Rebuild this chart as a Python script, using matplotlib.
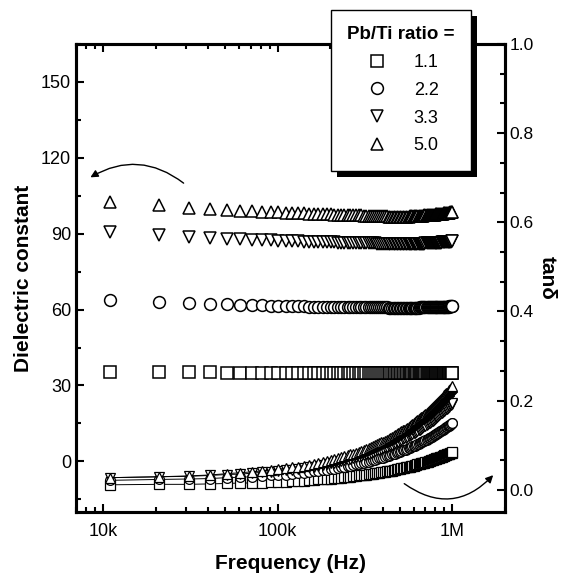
import matplotlib
matplotlib.use("Agg")
import matplotlib.pyplot as plt
from matplotlib.ticker import LogLocator, AutoMinorLocator, MultipleLocator, NullFormatter
from matplotlib.patches import Rectangle

plt.rcParams['font.family'] = ['Liberation Sans', 'DejaVu Sans']

# measuring frequencies (kHz)
freq_khz = [11, 21, 31, 41, 51, 61, 71, 81, 91, 101, 111, 121, 131, 141, 151, 161, 171, 181, 191, 201,
            211, 221, 231, 241, 251, 261, 271, 281, 291, 301, 311, 321, 331, 341, 351, 361, 371, 381, 391, 401,
            411, 421, 431, 441, 451, 461, 471, 481, 491, 501, 511, 521, 531, 541, 551, 561, 571, 581, 591, 601,
            611, 621, 631, 641, 651, 661, 671, 681, 691, 701, 711, 721, 731, 741, 751, 761, 771, 781, 791, 801,
            811, 821, 831, 841, 851, 861, 871, 881, 891, 901, 911, 921, 931, 941, 951, 961, 971, 981, 991, 1001]

ratios = ['1.1', '2.2', '3.3', '5.0']

# dielectric constant
eps_11 = [35.4, 35.3, 35.2, 35.2, 35.1, 35.1, 35.1, 35.0, 35.0, 35.0,
          35.0, 35.0, 35.0, 35.0, 35.0, 35.0, 35.0, 35.0, 35.0, 35.0,
          35.0, 35.0, 35.0, 34.9, 34.9, 34.9, 34.9, 34.9, 34.9, 34.9,
          34.9, 34.9, 34.9, 34.9, 34.9, 34.9, 34.9, 34.9, 34.9, 34.9,
          34.9, 34.9, 34.9, 34.9, 34.9, 34.9, 34.9, 34.9, 34.9, 34.9,
          34.9, 34.9, 34.9, 34.9, 34.9, 34.9, 34.9, 34.9, 34.9, 34.9,
          34.9, 34.9, 34.9, 34.9, 34.9, 34.9, 34.9, 34.9, 34.9, 34.9,
          34.9, 34.9, 34.9, 34.9, 34.9, 34.9, 35.0, 35.0, 35.0, 35.0,
          35.0, 35.0, 35.0, 35.0, 35.0, 35.0, 35.0, 35.0, 35.0, 35.0,
          35.0, 35.0, 35.0, 35.0, 35.0, 35.0, 35.0, 35.0, 35.0, 35.0]
eps_22 = [63.6, 63.2, 62.7, 62.4, 62.2, 62.0, 61.8, 61.7, 61.6, 61.5,
          61.4, 61.4, 61.3, 61.3, 61.2, 61.2, 61.2, 61.1, 61.1, 61.1,
          61.1, 61.0, 61.0, 61.0, 61.0, 61.0, 60.9, 60.9, 60.9, 60.9,
          60.9, 60.9, 60.9, 60.9, 60.9, 60.9, 60.9, 60.9, 60.9, 60.9,
          60.9, 60.9, 60.8, 60.8, 60.8, 60.8, 60.8, 60.8, 60.8, 60.8,
          60.8, 60.8, 60.8, 60.8, 60.8, 60.8, 60.8, 60.8, 60.8, 60.8,
          60.8, 60.8, 60.8, 60.8, 60.9, 60.9, 60.9, 60.9, 60.9, 60.9,
          60.9, 60.9, 60.9, 61.0, 61.0, 61.0, 61.0, 61.0, 61.0, 61.0,
          61.0, 61.1, 61.1, 61.1, 61.1, 61.1, 61.1, 61.1, 61.2, 61.2,
          61.2, 61.2, 61.2, 61.2, 61.2, 61.3, 61.3, 61.3, 61.3, 61.3]
eps_33 = [90.8, 89.6, 88.8, 88.4, 88.1, 87.9, 87.7, 87.5, 87.4, 87.3,
          87.2, 87.1, 87.0, 86.9, 86.9, 86.8, 86.8, 86.7, 86.7, 86.6,
          86.6, 86.5, 86.5, 86.5, 86.4, 86.4, 86.4, 86.3, 86.3, 86.3,
          86.3, 86.2, 86.2, 86.2, 86.2, 86.2, 86.1, 86.1, 86.1, 86.1,
          86.1, 86.1, 86.1, 86.0, 86.0, 86.0, 86.0, 86.0, 86.0, 86.0,
          86.0, 86.0, 86.0, 86.0, 86.0, 86.0, 86.0, 86.0, 86.0, 86.0,
          86.0, 86.0, 86.0, 86.1, 86.1, 86.1, 86.1, 86.1, 86.1, 86.2,
          86.2, 86.2, 86.2, 86.2, 86.3, 86.3, 86.3, 86.3, 86.4, 86.4,
          86.4, 86.4, 86.5, 86.5, 86.5, 86.5, 86.6, 86.6, 86.6, 86.7,
          86.7, 86.7, 86.8, 86.8, 86.8, 86.9, 86.9, 86.9, 87.0, 87.0]
eps_50 = [102.5, 101.2, 100.1, 99.7, 99.4, 99.1, 98.9, 98.7, 98.5, 98.4,
          98.3, 98.2, 98.1, 98.0, 97.9, 97.8, 97.8, 97.7, 97.6, 97.6,
          97.5, 97.5, 97.4, 97.4, 97.3, 97.3, 97.3, 97.2, 97.2, 97.2,
          97.1, 97.1, 97.1, 97.0, 97.0, 97.0, 97.0, 96.9, 96.9, 96.9,
          96.9, 96.9, 96.8, 96.8, 96.8, 96.8, 96.8, 96.8, 96.8, 96.8,
          96.8, 96.8, 96.8, 96.8, 96.8, 96.8, 96.9, 96.9, 96.9, 96.9,
          96.9, 97.0, 97.0, 97.0, 97.0, 97.1, 97.1, 97.1, 97.2, 97.2,
          97.2, 97.3, 97.3, 97.3, 97.4, 97.4, 97.5, 97.5, 97.5, 97.6,
          97.6, 97.7, 97.7, 97.8, 97.8, 97.8, 97.9, 97.9, 98.0, 98.0,
          98.1, 98.1, 98.2, 98.2, 98.3, 98.3, 98.4, 98.4, 98.5, 98.6]

# loss tangent
tan_11 = [0.011, 0.012, 0.012, 0.013, 0.014, 0.015, 0.015, 0.016, 0.017, 0.017,
          0.018, 0.019, 0.020, 0.020, 0.021, 0.022, 0.023, 0.023, 0.024, 0.025,
          0.026, 0.026, 0.027, 0.028, 0.029, 0.029, 0.030, 0.031, 0.032, 0.032,
          0.033, 0.034, 0.035, 0.035, 0.036, 0.037, 0.037, 0.038, 0.039, 0.040,
          0.040, 0.041, 0.042, 0.043, 0.043, 0.044, 0.045, 0.046, 0.046, 0.047,
          0.048, 0.049, 0.049, 0.050, 0.051, 0.052, 0.052, 0.053, 0.054, 0.054,
          0.055, 0.056, 0.057, 0.057, 0.058, 0.059, 0.060, 0.060, 0.061, 0.062,
          0.063, 0.063, 0.064, 0.065, 0.066, 0.066, 0.067, 0.068, 0.069, 0.069,
          0.070, 0.071, 0.072, 0.072, 0.073, 0.074, 0.074, 0.075, 0.076, 0.077,
          0.077, 0.078, 0.079, 0.080, 0.080, 0.081, 0.082, 0.083, 0.083, 0.084]
tan_22 = [0.021, 0.023, 0.024, 0.025, 0.027, 0.028, 0.029, 0.031, 0.032, 0.033,
          0.034, 0.036, 0.037, 0.038, 0.040, 0.041, 0.042, 0.044, 0.045, 0.046,
          0.047, 0.049, 0.050, 0.051, 0.053, 0.054, 0.055, 0.057, 0.058, 0.059,
          0.060, 0.062, 0.063, 0.064, 0.066, 0.067, 0.068, 0.070, 0.071, 0.072,
          0.073, 0.075, 0.076, 0.077, 0.079, 0.080, 0.081, 0.083, 0.084, 0.085,
          0.086, 0.088, 0.089, 0.090, 0.092, 0.093, 0.094, 0.096, 0.097, 0.098,
          0.099, 0.101, 0.102, 0.103, 0.105, 0.106, 0.107, 0.109, 0.110, 0.111,
          0.112, 0.114, 0.115, 0.116, 0.118, 0.119, 0.120, 0.122, 0.123, 0.124,
          0.125, 0.127, 0.128, 0.129, 0.131, 0.132, 0.133, 0.135, 0.136, 0.137,
          0.138, 0.140, 0.141, 0.142, 0.144, 0.145, 0.146, 0.148, 0.149, 0.150]
tan_33 = [0.027, 0.029, 0.030, 0.032, 0.034, 0.035, 0.037, 0.039, 0.040, 0.042,
          0.044, 0.045, 0.047, 0.049, 0.051, 0.052, 0.054, 0.056, 0.057, 0.059,
          0.061, 0.062, 0.064, 0.066, 0.067, 0.069, 0.071, 0.073, 0.074, 0.076,
          0.078, 0.079, 0.081, 0.083, 0.084, 0.086, 0.088, 0.089, 0.091, 0.093,
          0.095, 0.096, 0.098, 0.100, 0.101, 0.103, 0.105, 0.106, 0.108, 0.110,
          0.111, 0.113, 0.115, 0.116, 0.118, 0.120, 0.122, 0.123, 0.125, 0.127,
          0.128, 0.130, 0.132, 0.133, 0.135, 0.137, 0.138, 0.140, 0.142, 0.144,
          0.145, 0.147, 0.149, 0.150, 0.152, 0.154, 0.155, 0.157, 0.159, 0.160,
          0.162, 0.164, 0.166, 0.167, 0.169, 0.171, 0.172, 0.174, 0.176, 0.177,
          0.179, 0.181, 0.182, 0.184, 0.186, 0.188, 0.189, 0.191, 0.193, 0.194]
tan_50 = [0.027, 0.029, 0.031, 0.033, 0.036, 0.038, 0.040, 0.042, 0.044, 0.046,
          0.048, 0.050, 0.052, 0.054, 0.056, 0.058, 0.060, 0.062, 0.065, 0.067,
          0.069, 0.071, 0.073, 0.075, 0.077, 0.079, 0.081, 0.083, 0.085, 0.087,
          0.089, 0.091, 0.094, 0.096, 0.098, 0.100, 0.102, 0.104, 0.106, 0.108,
          0.110, 0.112, 0.114, 0.116, 0.118, 0.120, 0.123, 0.125, 0.127, 0.129,
          0.131, 0.133, 0.135, 0.137, 0.139, 0.141, 0.143, 0.145, 0.147, 0.149,
          0.152, 0.154, 0.156, 0.158, 0.160, 0.162, 0.164, 0.166, 0.168, 0.170,
          0.172, 0.174, 0.176, 0.178, 0.181, 0.183, 0.185, 0.187, 0.189, 0.191,
          0.193, 0.195, 0.197, 0.199, 0.201, 0.203, 0.205, 0.207, 0.210, 0.212,
          0.214, 0.216, 0.218, 0.220, 0.222, 0.224, 0.226, 0.228, 0.230, 0.232]

freq = [f * 1000 for f in freq_khz]
markers = ['s', 'o', 'v', '^']
eps_all = [eps_11, eps_22, eps_33, eps_50]
tan_all = [tan_11, tan_22, tan_33, tan_50]
eps_ms = [8, 8.5, 9, 9]
tan_ms = [6.5, 7, 7.5, 7.5]

fig = plt.figure(figsize=(5.62, 5.81), dpi=100)
ax = fig.add_axes([0.1352, 0.1188, 0.7633, 0.8055])
ax2 = ax.twinx()

handles = []
for m, e, ms, lab in zip(markers, eps_all, eps_ms, ratios):
    h, = ax.plot(freq, e, ls='none', marker=m, ms=ms, mfc='white', mec='black', mew=1.1, label=lab)
    handles.append(h)

for m, t, ms in zip(markers, tan_all, tan_ms):
    ax2.plot(freq, t, '-', color='black', lw=0.7, marker=m, ms=ms, mfc='white', mec='black', mew=0.9)

ax.set_xscale('log')
ax.set_xlim(7e3, 2e6)
ax.set_ylim(-20, 165)
ax2.set_ylim(-0.05, 1.0)

ax.set_xticks([1e4, 1e5, 1e6])
ax.set_xticklabels(['10k', '100k', '1M'])
ax.xaxis.set_minor_locator(LogLocator(base=10, subs=range(2, 10)))
ax.xaxis.set_minor_formatter(NullFormatter())
ax.yaxis.set_major_locator(MultipleLocator(30))
ax.yaxis.set_minor_locator(MultipleLocator(15))
ax2.yaxis.set_major_locator(MultipleLocator(0.2))
ax2.yaxis.set_minor_locator(AutoMinorLocator(3))
ax2.yaxis.set_major_formatter(plt.FuncFormatter(lambda v, p: f'{v:.1f}'))

for a in (ax, ax2):
    for s in a.spines.values():
        s.set_linewidth(2.2)
ax.tick_params(axis='x', which='both', direction='in', top=True, labelsize=13, pad=8)
ax.tick_params(axis='y', which='both', direction='in', right=False, labelsize=13)
ax.tick_params(which='major', length=6, width=1.5)
ax.tick_params(which='minor', length=3.5, width=1.5)
ax2.tick_params(axis='y', which='both', direction='in', labelsize=12.5)
ax2.tick_params(which='major', length=6, width=1.5)
ax2.tick_params(which='minor', length=3.5, width=1.5)

ax.set_xlabel('Frequency (Hz)', fontsize=15, fontweight='bold', labelpad=10)
ax.set_ylabel('Dielectric constant', fontsize=15, fontweight='bold', labelpad=6)
ax2.set_ylabel('tanδ', fontsize=15, fontweight='bold', rotation=270, labelpad=16)

# arrows pointing to the related axis
arrow = dict(arrowstyle='-|>', color='black', lw=1.0, mutation_scale=11)
ax.annotate('', xy=(0.028, 0.712), xytext=(0.256, 0.699), xycoords='axes fraction',
            arrowprops=dict(arrow, connectionstyle='arc3,rad=0.35'))
ax.annotate('', xy=(0.977, 0.083), xytext=(0.760, 0.064), xycoords='axes fraction',
            arrowprops=dict(arrow, connectionstyle='arc3,rad=0.45'))

leg = fig.legend(handles=handles, loc='upper left', bbox_to_anchor=(0.589, 0.983),
                 title='Pb/Ti ratio =', fontsize=13, title_fontproperties={'weight': 'bold', 'size': 13.5},
                 frameon=True, fancybox=False, edgecolor='black', framealpha=1,
                 borderpad=0.9, labelspacing=0.6, handletextpad=1.3, handlelength=1.5,
                 borderaxespad=0)
leg.get_frame().set_linewidth(1.0)
leg.set_zorder(10)

# solid drop shadow of the legend box
fig.canvas.draw()
bb = leg.get_window_extent().transformed(fig.transFigure.inverted())
dx, dy = 6 / 562, 6 / 581
shadow = Rectangle((bb.x0 + dx, bb.y0 - dy), bb.width, bb.height, transform=fig.transFigure,
                   facecolor='black', edgecolor='none', zorder=9)
fig.add_artist(shadow)

fig.savefig('out.png', dpi=100)
